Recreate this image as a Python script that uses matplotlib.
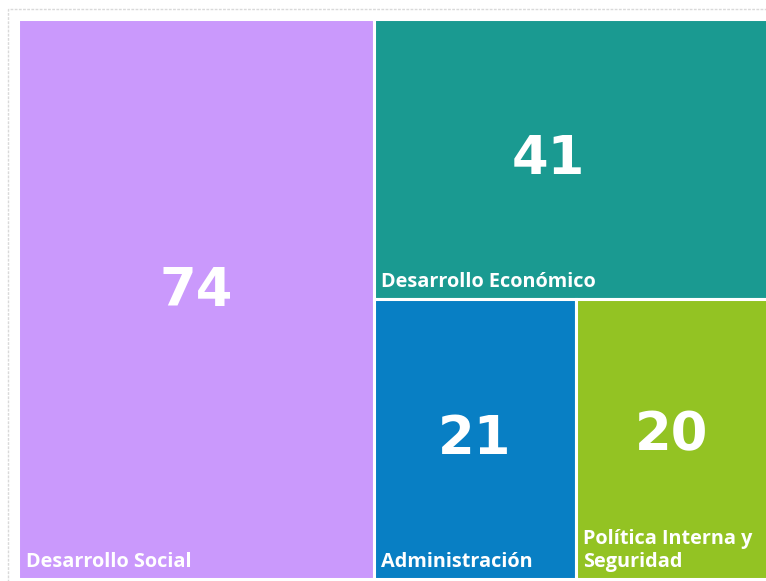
import matplotlib.pyplot as plt
from matplotlib.patches import Rectangle

# data
categorias = ["Desarrollo Social", "Desarrollo Económico", "Administración",
              "Política Interna y\nSeguridad"]
valores = [74, 41, 21, 20]
colores = ["#CA99FC", "#1A9A91", "#087FC4", "#93C323"]


def layout(vals, x, y, w, h, vertical=True):
    # simple slice-and-dice: first item takes a column, rest split the remainder
    if len(vals) == 1:
        return [(x, y, w, h)]
    total = sum(vals)
    if vertical:
        ww = w * vals[0] / total
        return [(x, y, ww, h)] + layout(vals[1:], x + ww, y, w - ww, h, not vertical)
    hh = h * vals[0] / total
    return [(x, y, w, hh)] + layout(vals[1:], x, y + hh, w, h - hh, not vertical)


W, H = 766, 581
fig = plt.figure(figsize=(W / 100, H / 100), dpi=100)
plt.rcParams['font.family'] = ['DejaVu Sans']

# outer light frame
fig.patches.append(Rectangle((8 / W, 1 - 9 / H - 2), 2, 2, transform=fig.transFigure,
                             fill=False, edgecolor="#d9d9d9", linewidth=1,
                             linestyle=(0, (2, 1))))

x0, y0, x1, y1 = 18, 19, 768, 579
ax = fig.add_axes([x0 / W, 1 - y1 / H, (x1 - x0) / W, (y1 - y0) / H])
ax.set_xlim(0, 1)
ax.set_ylim(1, 0)
ax.axis("off")

rects = layout(valores, 0, 0, 1, 1)
# small tweaks (fraction of axes) so the numbers sit where the original puts them
dx = [0, -0.03, 0, 0]
dy = [-0.014, 0, 0, -0.007]
for i, (rx, ry, rw, rh) in enumerate(rects):
    ax.add_patch(Rectangle((rx, ry), rw, rh, facecolor=colores[i],
                           edgecolor="white", linewidth=2.2))
    ax.text(rx + rw / 2 + dx[i], ry + rh / 2 + dy[i], str(valores[i]),
            color="white", fontsize=38, fontweight="bold",
            ha="center", va="center")
    ax.text(rx + 0.01, ry + rh - 0.013, categorias[i], color="white",
            fontsize=14.3, fontweight="bold", family="Open Sans",
            ha="left", va="bottom", linespacing=1.2)

fig.savefig("out.png", dpi=100)
